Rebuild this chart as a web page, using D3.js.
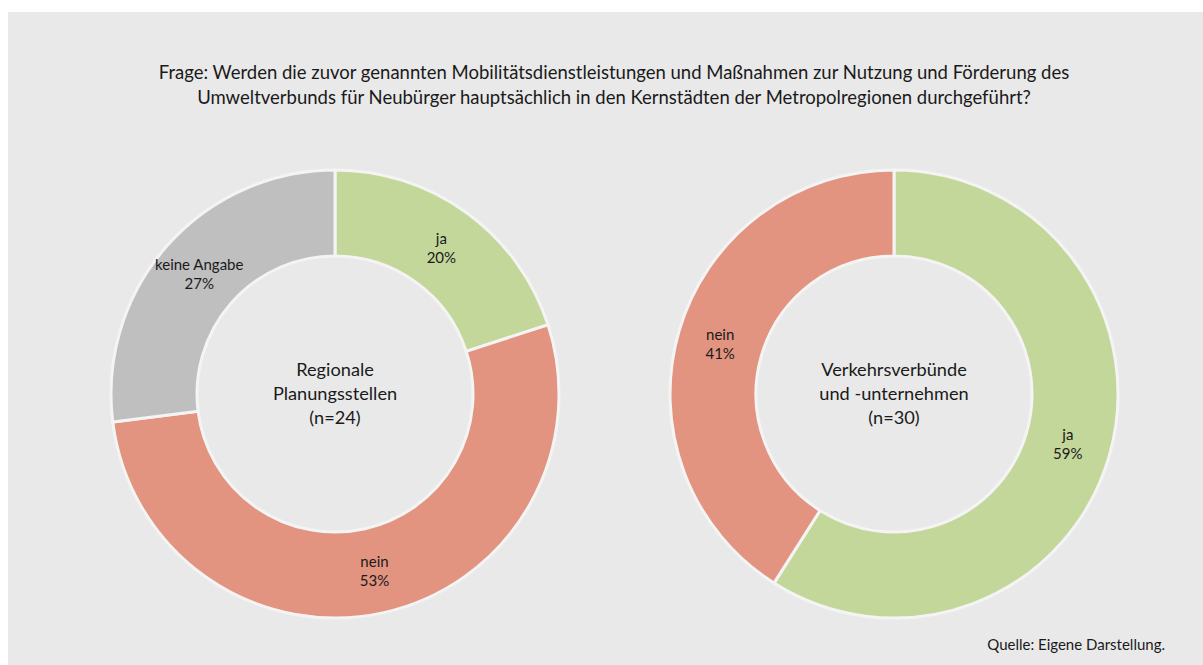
<!DOCTYPE html>
<html>
<head>
<meta charset="utf-8">
<script src="https://cdn.jsdelivr.net/npm/d3@7"></script>
<style>
  body { margin: 0; background: #fff; }
  svg { display: block; font-family: Lato, "Noto Sans", sans-serif; }
</style>
</head>
<body>
<svg id="chart"></svg>
<script>
// answer categories and shares (%) for each respondent group
const leftCategories = ['ja', 'nein', 'keine Angabe'];
const leftValues = [20, 53, 27];
const rightCategories = ['ja', 'nein'];
const rightValues = [59, 41];

const groupLabels = [
  ['Regionale', 'Planungsstellen', '(n=24)'],
  ['Verkehrsverbünde', 'und -unternehmen', '(n=30)']
];

const titleLines = [
  'Frage: Werden die zuvor genannten Mobilitätsdienstleistungen und Maßnahmen zur Nutzung und Förderung des',
  'Umweltverbunds für Neubürger hauptsächlich in den Kernstädten der Metropolregionen durchgeführt?'
];
const source = 'Quelle: Eigene Darstellung.';

const colors = { 'ja': '#c4d79b', 'nein': '#e29480', 'keine Angabe': '#bfbfbf' };

const width = 1203, height = 665;
const outerR = 224, innerR = 138;
const centers = [{x: 335, y: 394}, {x: 894, y: 394}];

const svg = d3.select('#chart')
  .attr('width', width)
  .attr('height', height);

svg.append('rect')
  .attr('x', 8).attr('y', 12)
  .attr('width', width - 8).attr('height', height - 12)
  .style('fill', '#e9e9e9');

/********* Title *********/
svg.append('g').selectAll('text')
  .data(titleLines)
  .enter()
  .append('text')
  .attr('x', 614)
  .attr('y', (d, i) => 79 + i * 25)
  .attr('text-anchor', 'middle')
  .style('font-size', '18.5px')
  .style('fill', '#1a1a1a')
  .text(d => d);

/********* Donuts *********/
const pie = d3.pie().sort(null).value(d => d.value);
const arc = d3.arc().innerRadius(innerR).outerRadius(outerR);
const labelArc = d3.arc().innerRadius((innerR + outerR) / 2).outerRadius((innerR + outerR) / 2);

const datasets = [
  leftCategories.map((c, i) => ({ category: c, value: leftValues[i] })),
  rightCategories.map((c, i) => ({ category: c, value: rightValues[i] }))
];

datasets.forEach((data, k) => {
  const g = svg.append('g')
    .attr('transform', `translate(${centers[k].x}, ${centers[k].y})`);

  const slices = pie(data);

  g.selectAll('path')
    .data(slices)
    .enter()
    .append('path')
    .attr('d', arc)
    .style('fill', d => colors[d.data.category])
    .style('stroke', '#f4f4f4')
    .style('stroke-width', 3);

  const labels = g.selectAll('.value')
    .data(slices)
    .enter()
    .append('text')
    .attr('class', 'value')
    .attr('transform', d => `translate(${labelArc.centroid(d)})`)
    .attr('text-anchor', 'middle')
    .style('font-size', '15px')
    .style('fill', '#1a1a1a');

  labels.append('tspan')
    .attr('x', 0).attr('y', -4)
    .text(d => d.data.category);
  labels.append('tspan')
    .attr('x', 0).attr('y', 15)
    .text(d => `${d.data.value}%`);

  // group name in the hole
  g.append('g').selectAll('text')
    .data(groupLabels[k])
    .enter()
    .append('text')
    .attr('x', 0)
    .attr('y', (d, i) => -18 + i * 24)
    .attr('text-anchor', 'middle')
    .style('font-size', '18.2px')
    .style('fill', '#1a1a1a')
    .text(d => d);
});

svg.append('text')
  .attr('x', 1165)
  .attr('y', 650)
  .attr('text-anchor', 'end')
  .style('font-size', '15px')
  .style('fill', '#1a1a1a')
  .text(source);
</script>
</body>
</html>
